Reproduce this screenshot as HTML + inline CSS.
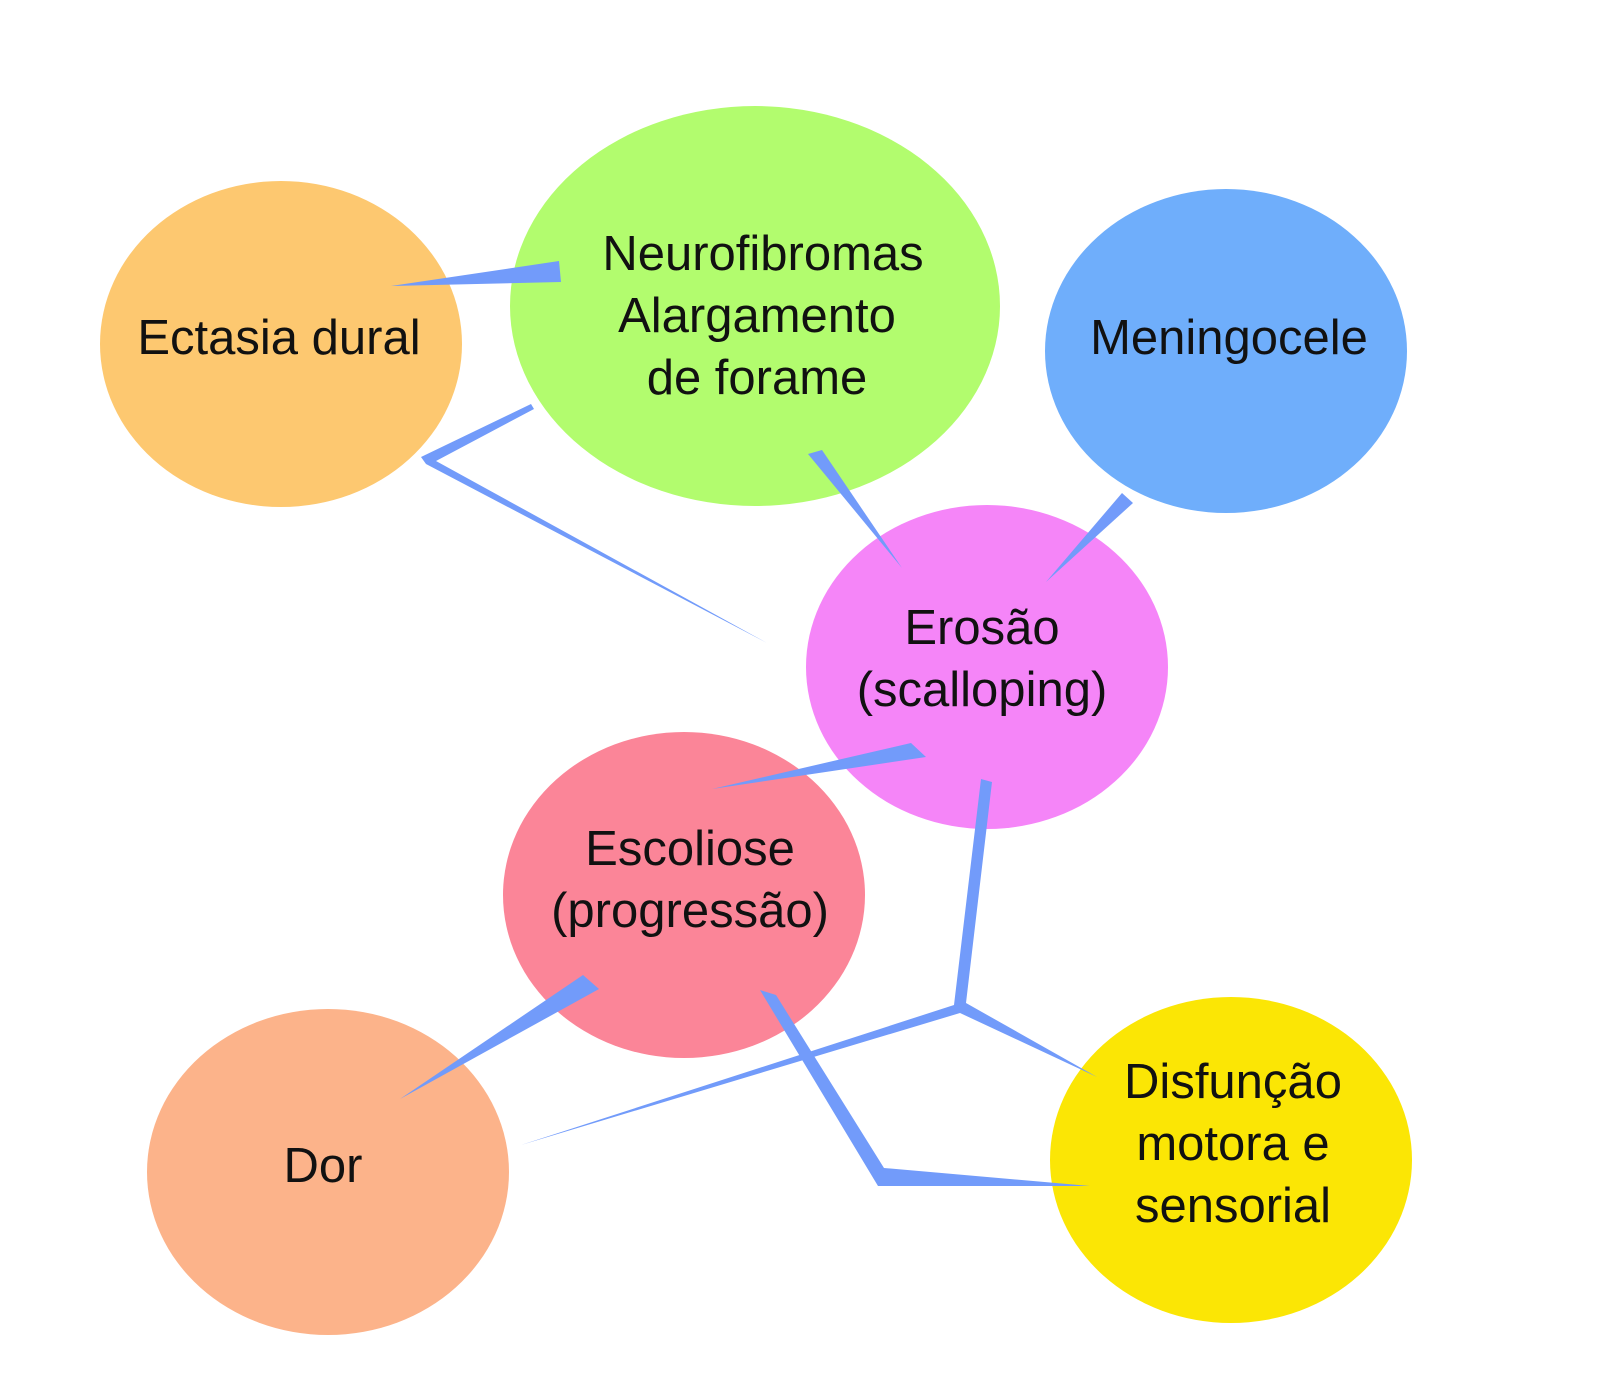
<!DOCTYPE html>
<html><head><meta charset="utf-8"><style>
html,body{margin:0;padding:0;background:#fff;}
svg{display:block;}
text{font-family:"Liberation Sans",sans-serif;font-size:49px;fill:#111;text-anchor:middle;}
</style></head><body>
<svg width="1600" height="1399" viewBox="0 0 1600 1399" xmlns="http://www.w3.org/2000/svg">
<ellipse cx="281" cy="344" rx="181" ry="163" fill="#FDC870"/>
<ellipse cx="755" cy="306" rx="245" ry="200" fill="#B2FC6E"/>
<ellipse cx="1226" cy="351" rx="181" ry="162" fill="#6FAEFB"/>
<ellipse cx="987" cy="667" rx="181" ry="162" fill="#F585F8"/>
<ellipse cx="684" cy="895" rx="181" ry="163" fill="#FB8598"/>
<ellipse cx="328" cy="1172" rx="181" ry="163" fill="#FCB38A"/>
<ellipse cx="1231" cy="1160" rx="181" ry="163" fill="#FBE605"/>
<g fill="#729BFA">
<polygon points="391,286 559,261 561,282"/>
<polygon points="531,404 421,457 426,464 767,643 436,461 534,409"/>
<polygon points="808,454 822,450 902,568"/>
<polygon points="1122,493 1133,503 1046,582"/>
<polygon points="911,743 926,757 712,789"/>
<polygon points="981,779 992,782 966,1003 1097,1077 960,1013 521,1145 954,1005"/>
<polygon points="583,975 599,989 400,1099"/>
<polygon points="760,990 776,995 884,1168 1090,1186 878,1186"/>
</g>
<text x="279" y="354">Ectasia dural</text>
<text x="763" y="270">Neurofibromas</text>
<text x="757" y="332">Alargamento</text>
<text x="757" y="394">de forame</text>
<text x="1229" y="354">Meningocele</text>
<text x="982" y="644">Erosão</text>
<text x="982" y="706">(scalloping)</text>
<text x="690" y="865">Escoliose</text>
<text x="690" y="927">(progressão)</text>
<text x="323" y="1182">Dor</text>
<text x="1233" y="1098">Disfunção</text>
<text x="1233" y="1160">motora e</text>
<text x="1233" y="1222">sensorial</text>
</svg>
</body></html>
